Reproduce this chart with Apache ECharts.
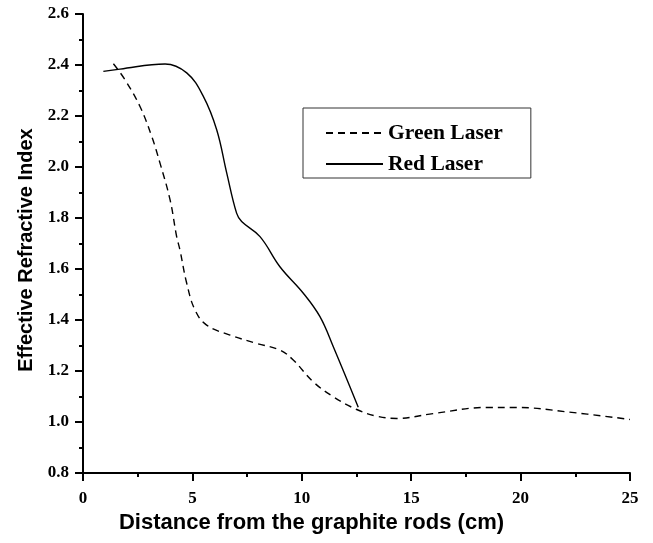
<!DOCTYPE html>
<html>
<head>
<meta charset="utf-8">
<script src="https://cdn.jsdelivr.net/npm/echarts@6/dist/echarts.min.js"></script>
<style>html,body{margin:0;padding:0;background:#fff}#c{width:653px;height:543px}</style>
</head>
<body>
<div id="c"></div>
<script>
const greenX = [1.39, 1.92, 2.6, 3.14, 3.52, 3.98, 4.28, 4.43, 4.74, 5.12, 5.65, 6.72, 7.94, 9.0, 9.61, 10.53, 11.44, 12.51, 13.42, 14.34, 16.0, 18.45, 19.82, 22.1, 25.0];
const greenY = [2.405, 2.342, 2.238, 2.12, 2.015, 1.871, 1.727, 1.675, 1.544, 1.439, 1.38, 1.341, 1.308, 1.282, 1.243, 1.157, 1.099, 1.049, 1.023, 1.014, 1.033, 1.057, 1.057, 1.04, 1.01];
const redX = [0.93, 1.69, 3.75, 4.74, 5.5, 6.11, 6.57, 7.02, 7.25, 8.09, 9.0, 10.07, 10.83, 11.44, 12.58];
const redY = [2.375, 2.384, 2.404, 2.369, 2.277, 2.146, 1.976, 1.819, 1.786, 1.727, 1.609, 1.505, 1.413, 1.295, 1.058];
const seriesNames = ['Green Laser', 'Red Laser'];
const xTitle = 'Distance from the graphite rods (cm)';
const yTitle = 'Effective Refractive Index';

const zip = (xs, ys) => xs.map((x, i) => [x, ys[i]]);
const chart = echarts.init(document.getElementById('c'), null, {renderer: 'canvas'});
const axisCommon = {
  axisLine: {show: true, onZero: false, lineStyle: {color: '#000', width: 2}},
  axisTick: {show: true, inside: false, length: 8, lineStyle: {color: '#000', width: 2}},
  minorTick: {show: true, splitNumber: 2, length: 4, lineStyle: {color: '#000', width: 2}},
  splitLine: {show: false},
  minorSplitLine: {show: false},
  nameLocation: 'middle'
};
const labelStyle = {fontFamily: 'Liberation Serif', fontWeight: 'bold', fontSize: 17, color: '#000'};
chart.setOption({
  animation: false,
  backgroundColor: '#fff',
  grid: {left: 83, right: 23, top: 14, bottom: 70, containLabel: false},
  legend: {
    orient: 'vertical', left: 303, top: 108,
    borderColor: '#333', borderWidth: 1, borderRadius: 0,
    padding: [14, 28, 3, 22], itemGap: 9,
    itemWidth: 57, itemHeight: 14,
    itemStyle: {opacity: 0},
    textStyle: {fontFamily: 'Liberation Serif', fontWeight: 'bold', fontSize: 21.5, color: '#000', padding: [0, 0, 0, 0]},
    data: seriesNames
  },
  xAxis: Object.assign({}, axisCommon, {
    type: 'value', min: 0, max: 25, interval: 5,
    name: xTitle, nameGap: 38,
    nameTextStyle: {fontFamily: 'Liberation Sans', fontWeight: 'bold', fontSize: 22, color: '#000', padding: [0, 90, 0, 0]},
    axisLabel: Object.assign({margin: 17}, labelStyle)
  }),
  yAxis: Object.assign({}, axisCommon, {
    type: 'value', min: 0.8, max: 2.6, interval: 0.2,
    name: yTitle, nameGap: 42,
    nameTextStyle: {fontFamily: 'Liberation Sans', fontWeight: 'bold', fontSize: 20, color: '#000', padding: [0, 13, 0, 0]},
    axisLabel: Object.assign({margin: 14, formatter: v => v.toFixed(1)}, labelStyle)
  }),
  series: [
    {name: seriesNames[0], type: 'line', smooth: 0.4, symbol: 'none', showSymbol: false,
     data: zip(greenX, greenY), itemStyle: {color: '#000'},
     lineStyle: {color: '#000', width: 1.4, type: [7, 5]}},
    {name: seriesNames[1], type: 'line', smooth: 0.4, symbol: 'none', showSymbol: false,
     data: zip(redX, redY), itemStyle: {color: '#000'},
     lineStyle: {color: '#000', width: 1.4, type: 'solid'}}
  ]
});
</script>
</body>
</html>
